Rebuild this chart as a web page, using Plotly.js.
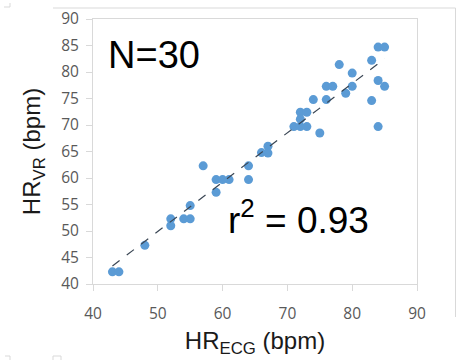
<!DOCTYPE html>
<html>
<head>
<meta charset="utf-8">
<script src="https://cdn.plot.ly/plotly-3.0.1.min.js"></script>
<style>html,body{margin:0;padding:0;background:#fff;}#chart{width:459px;height:360px;}</style>
</head>
<body>
<div id="chart"></div>
<script>
// HR measured by ECG (x) vs HR measured by VR (y), bpm
var hrECG = [43, 44, 48, 52, 52, 54, 55, 55, 57, 59, 60, 61, 59,
             64, 64, 66, 67, 67,
             71, 72, 73, 72, 73, 72, 75, 74, 76, 76, 77, 78, 79, 80, 80, 83, 83, 84, 85, 84, 85, 84];
var hrVR  = [42.3, 42.3, 47.3, 52.3, 51.0, 52.3, 52.3, 54.8, 62.3, 59.7, 59.7, 59.7, 57.3,
             62.3, 59.7, 64.8, 66.0, 64.7,
             69.7, 69.7, 69.7, 72.4, 72.4, 71.1, 68.5, 74.8, 74.8, 77.3, 77.3, 81.4, 76.0, 77.3, 79.8, 82.2, 74.6, 84.7, 84.7, 78.4, 77.3, 69.7];
// linear trendline end points (y = 0.93x + 3.4)
var trendX = [43, 85];
var trendY = [43.4, 82.5];
var xTicks = [40, 50, 60, 70, 80, 90];
var yTicks = [40, 45, 50, 55, 60, 65, 70, 75, 80, 85, 90];
var nLabel = "N=30";
var r2Label = "r<sup>2</sup> = 0.93";

var tickFont = {family: "Open Sans, DejaVu Sans, sans-serif", size: 15.5, color: "#595959"};
var gridCol = "#d9d9d9";

var traces = [
  {x: hrECG, y: hrVR, mode: "markers", type: "scatter",
   marker: {color: "#5b9bd5", size: 9}, hoverinfo: "skip"},
  {x: trendX, y: trendY, mode: "lines", type: "scatter",
   line: {color: "#3a4654", width: 1.2, dash: "dash"}, hoverinfo: "skip"}
];

function px2paperX(p){ return (p - 93) / 324; }
function px2paperY(p){ return (284 - p) / 265; }
var frameCol = "#d9d9d9";
var shapes = [
  {type: "line", xref: "paper", yref: "paper", x0: px2paperX(53), x1: px2paperX(455.5), y0: px2paperY(8), y1: px2paperY(8), line: {color: frameCol, width: 1}},
  {type: "line", xref: "paper", yref: "paper", x0: px2paperX(455.5), x1: px2paperX(455.5), y0: px2paperY(8), y1: px2paperY(317), line: {color: frameCol, width: 1}},
  {type: "line", xref: "paper", yref: "paper", x0: px2paperX(4), x1: px2paperX(10), y0: px2paperY(7), y1: px2paperY(7), line: {color: frameCol, width: 1}},
  {type: "line", xref: "paper", yref: "paper", x0: px2paperX(10), x1: px2paperX(10), y0: px2paperY(3), y1: px2paperY(7), line: {color: frameCol, width: 1}},
  {type: "line", xref: "paper", yref: "paper", x0: px2paperX(5), x1: px2paperX(10), y0: px2paperY(356), y1: px2paperY(356), line: {color: frameCol, width: 1}},
  {type: "line", xref: "paper", yref: "paper", x0: px2paperX(10), x1: px2paperX(10), y0: px2paperY(356), y1: px2paperY(360), line: {color: frameCol, width: 1}},
  {type: "line", xref: "paper", yref: "paper", x0: px2paperX(53), x1: px2paperX(61), y0: px2paperY(356), y1: px2paperY(356), line: {color: frameCol, width: 1}},
  {type: "line", xref: "paper", yref: "paper", x0: px2paperX(53), x1: px2paperX(53), y0: px2paperY(356), y1: px2paperY(360), line: {color: frameCol, width: 1}},
  {type: "line", xref: "paper", yref: "paper", x0: px2paperX(61), x1: px2paperX(61), y0: px2paperY(356), y1: px2paperY(360), line: {color: frameCol, width: 1}}
];

var layout = {
  width: 459, height: 360,
  margin: {l: 93, r: 42, t: 19, b: 76},
  paper_bgcolor: "#ffffff", plot_bgcolor: "#ffffff",
  showlegend: false,
  xaxis: {
    range: [40, 90], tickvals: xTicks, ticktext: xTicks.map(String),
    showgrid: false, zeroline: false,
    showline: true, linecolor: gridCol, linewidth: 1, mirror: true,
    ticks: "outside", ticklen: 6, tickcolor: gridCol, tickwidth: 1,
    tickfont: tickFont, ticklabelstandoff: 9,
    title: {text: "HR<sub>ECG</sub> (bpm)", font: {family: "Liberation Sans, Arial, sans-serif", size: 24, color: "#1a1a1a"}, standoff: 9},
    automargin: false, fixedrange: true
  },
  yaxis: {
    range: [40, 90], tickvals: yTicks, ticktext: yTicks.map(String),
    showgrid: false, zeroline: false,
    showline: true, linecolor: gridCol, linewidth: 1, mirror: true,
    ticks: "outside", ticklen: 6, tickcolor: gridCol, tickwidth: 1,
    tickfont: tickFont, ticklabelstandoff: 4,
    title: {text: "HR<sub>VR</sub> (bpm)", font: {family: "Liberation Sans, Arial, sans-serif", size: 24, color: "#1a1a1a"}, standoff: 13},
    automargin: false, fixedrange: true
  },
  annotations: [
    {text: nLabel, xref: "x", yref: "y", x: 42, y: 83.3, xanchor: "left", yanchor: "middle",
     showarrow: false, font: {family: "Liberation Sans, Arial, sans-serif", size: 38, color: "#000000"}},
    {text: r2Label, xref: "x", yref: "y", x: 60.5, y: 52.6, xanchor: "left", yanchor: "middle",
     showarrow: false, font: {family: "Liberation Sans, Arial, sans-serif", size: 37, color: "#000000"}}
  ],
  shapes: shapes
};

Plotly.newPlot("chart", traces, layout, {staticPlot: true, displayModeBar: false});
</script>
</body>
</html>
